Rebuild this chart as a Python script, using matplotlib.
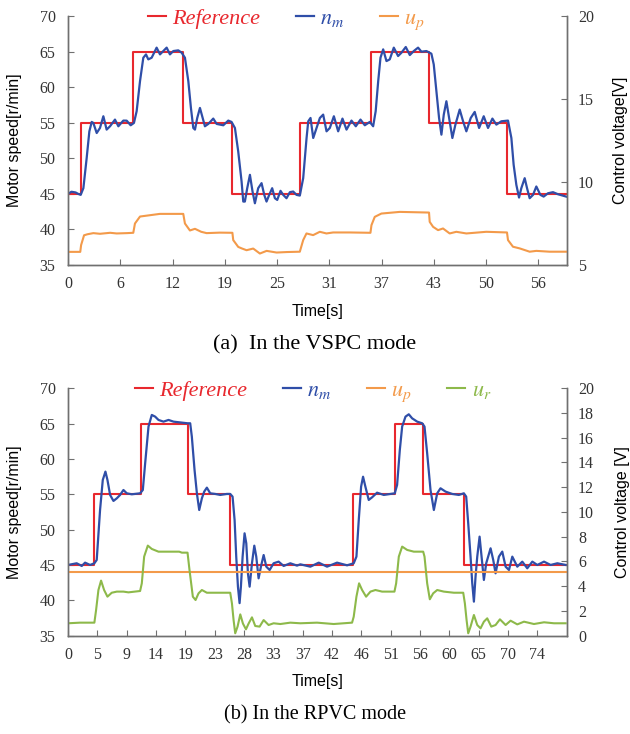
import matplotlib
matplotlib.use('Agg')
import matplotlib.pyplot as plt

plt.rcParams['mathtext.fontset'] = 'stix'

RED = '#e8282e'
BLUE = '#2f4ea8'
ORANGE = '#f39a4a'
GREEN = '#8db94a'
SPINE = '#707070'

# ---------------- (a) VSPC mode ----------------
ref_a_t = [0, 1.5, 7.74, 13.6, 19.5, 27.5, 35.9, 42.8, 52.1, 59.2]
ref_a_v = [45, 55, 65, 55, 45, 55, 65, 55, 45, 45]

nm_a_t = [0, 0.4, 0.9, 1.2, 1.5, 1.82, 2.21, 2.53, 2.81, 3.0, 3.4, 3.79, 4.19, 4.58, 4.98,
          5.57, 5.97, 6.56, 6.96, 7.43, 7.82, 8.14, 8.54, 8.93, 9.25, 9.52, 9.92, 10.51,
          10.91, 11.3, 11.7, 12.09, 12.49, 13.08, 13.48, 13.87, 14.27, 14.58, 14.86, 15.06,
          15.33, 15.65, 15.97, 16.24, 16.64, 17.23, 17.63, 18.02, 18.42, 19.01, 19.4, 19.8,
          20.19, 20.59, 20.79, 20.98, 21.26, 21.58, 21.89, 22.17, 22.56, 22.96, 23.28, 23.55,
          23.87, 24.22, 24.54, 24.82, 25.21, 25.53, 25.92, 26.32, 26.71, 27.11,
          27.5, 27.9, 28.1, 28.3, 28.5, 28.77, 29.09, 29.48, 29.88, 30.27, 30.67, 31.06,
          31.54, 32.05, 32.56, 33.04, 33.63, 34.14, 34.7, 35.21, 35.8, 36.2, 36.5, 36.8,
          37.07, 37.39, 37.78, 38.17, 38.65, 39.16, 39.56, 40.07, 40.55, 41.02, 41.53,
          41.93, 42.52, 43.11, 43.39, 43.71, 44.02, 44.3, 44.58, 44.89, 45.21, 45.6, 45.96,
          46.47, 46.87, 47.26, 47.78, 48.25, 48.77, 49.32, 49.83, 50.35, 50.82, 51.41,
          52.2, 52.6, 52.87, 53.19, 53.51, 53.78, 54.18, 54.46, 54.77, 55.17, 55.56,
          56.04, 56.43, 56.95, 57.54, 58.13, 59.1]
nm_a_v = [45.0, 45.3, 45.2, 45.0, 44.86, 45.8, 50.04, 53.8, 55.12, 54.98, 53.56, 54.27, 55.92, 54.04, 54.51,
          55.45, 54.51, 55.31, 55.3, 54.65, 54.98, 56.63, 60.86, 64.15, 64.62, 63.92, 64.15, 65.57,
          64.62, 65.09, 65.57, 64.62, 65.09, 65.19, 64.86, 64.15, 60.86, 57.09, 54.27, 54.04,
          55.68, 57.09, 55.68, 54.51, 54.84, 55.59, 54.84, 54.74, 54.65, 55.31, 55.12, 54.27,
          50.98, 46.74, 43.92, 43.92, 45.8, 47.68, 45.33, 43.68, 45.8, 46.51, 44.86, 43.92,
          44.86, 45.8, 44.39, 44.15, 45.43, 44.86, 44.39, 45.24, 45.33, 44.86,
          44.76, 47.21, 50.04, 52.86, 55.21, 55.68, 52.86, 54.27, 55.68, 56.15, 53.8, 54.27,
          55.92, 53.8, 55.59, 54.04, 55.31, 54.51, 55.45, 54.65, 55.12, 54.51, 56.63, 60.86,
          64.15, 65.33, 63.68, 63.92, 65.57, 64.39, 64.86, 65.66, 64.53, 65.09, 65.57,
          65.0, 65.09, 64.72, 63.21, 59.45, 55.68, 53.33, 56.15, 58.03, 55.68, 52.86, 54.74,
          56.86, 55.21, 53.8, 55.68, 56.53, 54.27, 55.92, 54.27, 55.59, 54.74, 55.21,
          55.31, 52.86, 49.09, 46.27, 44.48, 45.8, 47.21, 45.8, 44.39, 44.86, 46.04,
          44.86, 44.62, 45.09, 45.24, 44.95, 44.62]

up_a_t = [0, 1.45, 1.55, 1.9, 2.29, 3.0, 3.79, 5.0, 5.77, 7.0, 7.74, 7.94, 8.54, 10.9,
          13.67, 13.87, 14.46, 15.06, 15.8, 16.44, 18.0, 19.5, 19.6, 20.19, 20.6, 21.18,
          21.97, 22.76, 23.56, 24.74, 26.0, 27.5, 27.9, 28.29, 29.08, 29.87, 30.66, 31.45,
          33.43, 35.88, 36.0, 36.39, 37.18, 39.36, 42.83, 42.91, 43.31, 43.9, 44.49, 45.28,
          46.07, 47.26, 49.63, 52.08, 52.2, 52.79, 53.58, 54.77, 55.56, 57.14, 59.2]
up_a_v = [5.79, 5.79, 6.2, 6.79, 6.85, 6.92, 6.88, 6.94, 6.9, 6.92, 6.94, 7.5, 7.92, 8.08,
          8.08, 7.5, 7.08, 7.18, 7.0, 6.92, 6.95, 6.94, 6.5, 6.09, 6.0, 5.89,
          5.99, 5.69, 5.85, 5.75, 5.78, 5.8, 6.5, 6.9, 6.8, 7.0, 6.9, 6.96,
          6.96, 6.94, 7.4, 7.9, 8.1, 8.2, 8.16, 7.6, 7.3, 7.1, 7.2, 6.9,
          7.0, 6.9, 7.0, 6.96, 6.5, 6.1, 6.0, 5.8, 5.85, 5.8, 5.8]

xticks_a = ['0', '6', '12', '19', '25', '31', '37', '43', '50', '56']

# ---------------- (b) RPVC mode ----------------
ref_b_t = [0, 4.17, 11.57, 18.97, 25.68, 45.08, 51.73, 56.23, 62.67, 79]
ref_b_v = [45, 55, 65, 55, 45, 55, 65, 55, 45, 45]

nm_b_t = [0, 1.37, 2.17, 2.7, 3.49, 4.17, 4.54, 5.07, 5.5, 5.92, 6.24, 6.66, 7.19, 7.72,
          8.24, 8.77, 9.3, 10.09, 11.41, 11.84, 12.21, 12.74, 13.26, 13.79, 14.32, 15.11,
          15.91, 16.7, 18.02, 18.92, 19.34, 19.6, 20.03, 20.4, 20.77, 21.19, 21.56, 21.98,
          22.51, 23.3, 24.1, 25.15, 25.68, 26.05, 26.37, 26.63, 26.9, 27.16, 27.37, 27.64,
          27.95, 28.22, 28.48, 28.75, 29.12, 29.49, 29.8, 30.17, 30.54, 30.97, 31.39, 31.92,
          32.55, 33.34, 34.14, 35.19, 36.25,
          36.78, 38.37, 39.69, 41.01, 42.59, 44.18, 45.23, 45.66, 46.03, 46.4, 46.71, 47.08,
          47.61, 48.14, 48.93, 49.99, 51.05, 51.73, 52.1, 52.53, 52.9, 53.43, 53.95, 54.48,
          55.28, 56.07, 56.44, 56.86, 57.39, 57.92, 58.45, 58.97, 59.77, 60.82, 61.88, 62.67,
          63.04, 63.36, 63.73, 64.0, 64.26, 64.52, 64.79, 65.16, 65.47, 65.84, 66.21, 66.9,
          67.32, 67.69, 68.22, 68.75, 69.28, 69.81, 70.34, 71.13, 71.92, 72.71, 73.51, 74.3,
          75.36, 76.41, 77.47, 78.79]
nm_b_v = [45.0, 45.24, 44.86, 45.33, 45.0, 45.24, 45.71, 52.78, 57.03, 58.21, 57.03, 54.91, 54.06, 54.43,
          54.91, 55.61, 55.14, 55.0, 55.14, 55.61, 59.39, 64.58, 66.23, 65.99, 65.52, 65.28,
          65.52, 65.28, 65.14, 65.05, 65.05, 63.16, 58.44, 55.14, 52.78, 54.43, 55.38, 55.94,
          55.14, 55.05, 54.91, 55.05, 55.05, 54.67, 51.37, 46.18, 41.93, 39.6, 41.93, 46.18,
          49.48, 48.07, 43.82, 41.93, 45.24, 47.73, 46.18, 43.11, 44.76, 46.41, 44.76, 44.29,
          45.24, 45.47, 44.86, 45.24, 44.91,
          45.09, 44.76, 45.33, 44.76, 45.33, 44.95, 45.24, 46.18, 51.37, 56.08, 57.49, 56.08,
          54.2, 54.57, 55.23, 54.91, 55.05, 55.14, 56.32, 61.27, 64.58, 65.99, 66.32, 65.75,
          65.28, 65.05, 64.58, 60.8, 55.61, 52.78, 55.14, 55.85, 55.38, 55.05, 54.91, 55.14,
          54.67, 50.89, 46.18, 42.4, 39.81, 43.35, 46.18, 49.01, 46.18, 42.88, 45.24, 47.36,
          45.71, 43.82, 46.18, 46.89, 44.76, 44.29, 46.18, 44.76, 45.47, 44.53, 45.47, 45.0,
          45.47, 45.0, 45.24, 45.0]

up_b_t = [0, 79]
up_b_v = [5.15, 5.15]

ur_b_t = [0, 1.9, 4.17, 4.44, 4.81, 5.23, 5.71, 6.24, 6.92, 7.72, 8.77, 9.56, 11.41, 11.68,
          12.05, 12.63, 13.26, 14.32, 15.64, 17.6, 18.02, 18.92, 19.23, 19.76, 20.19, 20.66,
          21.19, 21.98, 23.04, 25.68, 25.95, 26.21, 26.47, 26.84, 27.27, 27.69, 28.17, 28.59,
          29.12, 29.64, 30.33, 30.97, 31.76, 32.55, 33.61, 35.19, 36.78,
          39.42, 42.06, 44.97, 45.23, 45.66, 46.08, 46.56, 47.19, 47.88, 48.67, 49.73, 51.68,
          51.95, 52.37, 52.9, 53.69, 54.75, 56.23, 56.44, 56.86, 57.28, 57.81, 58.45, 59.5,
          61.09, 62.57, 62.83, 63.1, 63.36, 63.73, 64.26, 64.79, 65.31, 65.84, 66.37, 67.01,
          67.69, 68.38, 69.28, 70.07, 71.13, 72.19, 73.77, 75.36, 76.94, 78.79]
ur_b_v = [1.0, 1.05, 1.05, 2.07, 3.69, 4.45, 3.69, 3.15, 3.47, 3.56, 3.56, 3.5, 3.61, 4.23,
          6.39, 7.28, 7.01, 6.79, 6.79, 6.79, 6.71, 6.71, 5.31, 3.15, 2.88, 3.42,
          3.69, 3.47, 3.47, 3.47, 2.61, 1.26, 0.19, 0.73, 1.72, 0.98, 0.51, 0.98,
          1.48, 0.78, 0.73, 1.26, 0.86, 1.0, 0.94, 1.05, 1.0,
          1.05, 0.94, 1.05, 1.53, 3.15, 4.23, 3.69, 3.15, 3.56, 3.69, 3.56, 3.56,
          4.23, 6.39, 7.2, 6.93, 6.79, 6.79, 6.39, 4.23, 2.94, 3.42, 3.69, 3.56,
          3.47, 3.47, 2.61, 1.26, 0.19, 0.73, 1.67, 0.86, 0.59, 1.13, 1.4, 0.73,
          0.86, 1.32, 0.86, 1.21, 0.91, 1.13, 0.94, 1.08, 1.0, 1.0]

xticks_b = ['0', '5', '9', '14', '19', '23', '28', '33', '37', '42', '46', '51',
            '56', '60', '65', '70', '74']

SERIF = 'Liberation Serif'
SANS = 'Liberation Sans'


def style_axes(ax, ax2, xlim, step, labels, ylim2, yticks2, rlabel):
    ax.set_xlim(0, xlim)
    ax.set_ylim(35, 70)
    ax.set_yticks(range(35, 71, 5))
    ax.set_xticks([i * step for i in range(len(labels))])
    ax.set_xticklabels(labels)
    ax2.set_ylim(*ylim2)
    ax2.set_yticks(yticks2)
    for a in (ax, ax2):
        for s in a.spines.values():
            s.set_color(SPINE)
            s.set_linewidth(1.0)
        a.spines['top'].set_visible(False)
        a.tick_params(direction='in', length=4, color=SPINE, labelsize=11.5,
                      labelcolor='#333333')
        for lab in a.get_xticklabels() + a.get_yticklabels():
            lab.set_fontfamily(SERIF)
    ax.tick_params(axis='y', pad=9)
    ax.tick_params(axis='x', pad=8)
    ax2.tick_params(axis='y', pad=8)
    ax.set_ylabel('Motor speed[r/min]', family=SANS, fontsize=11.5)
    ax.set_xlabel('Time[s]', family=SANS, fontsize=11.5)
    ax2.set_ylabel(rlabel, family=SANS, fontsize=11.5)


def add_legend(ax2, handles, labels, x, colors):
    leg = ax2.legend(handles, labels, loc='center left', bbox_to_anchor=(x, 0.985),
                     ncol=len(handles), frameon=False, borderpad=0, borderaxespad=0,
                     handlelength=0.8, handletextpad=0.3, columnspacing=1.6,
                     prop={'family': SERIF, 'style': 'italic', 'size': 16})
    for t, c in zip(leg.get_texts(), colors):
        t.set_color(c)


fig = plt.figure(figsize=(6.3, 7.34), dpi=100)

# (a)
ax = fig.add_axes([0.108, 0.639, 0.792, 0.339])
ax2 = ax.twinx()
l1, = ax.plot(ref_a_t, ref_a_v, drawstyle='steps-post', color=RED, lw=1.5)
l2, = ax.plot(nm_a_t, nm_a_v, color=BLUE, lw=1.6)
l3, = ax2.plot(up_a_t, up_a_v, color=ORANGE, lw=1.5)
style_axes(ax, ax2, 59.2, 6.2, xticks_a, (5, 20), [5, 10, 15, 20], 'Control voltage[V]')
ax.yaxis.set_label_coords(-0.093, 0.5)
ax2.yaxis.set_label_coords(1.092, 0.5)
ax.xaxis.set_label_coords(0.5, -0.155)
add_legend(ax2, [l1, l2, l3], ['Reference', '$n_m$', '$u_p$'], 0.16, [RED, BLUE, ORANGE])
fig.text(0.5, 1 - 345 / 734, '(a)  In the VSPC mode', family=SERIF, fontsize=16,
         ha='center', va='center')

# (b)
bx = fig.add_axes([0.108, 0.134, 0.792, 0.337])
bx2 = bx.twinx()
m1, = bx.plot(ref_b_t, ref_b_v, drawstyle='steps-post', color=RED, lw=1.5)
m2, = bx.plot(nm_b_t, nm_b_v, color=BLUE, lw=1.6)
m3, = bx2.plot(up_b_t, up_b_v, color=ORANGE, lw=1.5)
m4, = bx2.plot(ur_b_t, ur_b_v, color=GREEN, lw=1.5)
style_axes(bx, bx2, 79, 4.645, xticks_b, (0, 20), list(range(0, 21, 2)), 'Control voltage [V]')
bx.yaxis.set_label_coords(-0.093, 0.5)
bx2.yaxis.set_label_coords(1.096, 0.5)
bx.xaxis.set_label_coords(0.5, -0.155)
add_legend(bx2, [m1, m2, m3, m4], ['Reference', '$n_m$', '$u_p$', '$u_r$'], 0.134,
           [RED, BLUE, ORANGE, GREEN])
fig.text(0.5, 1 - 715 / 734, '(b) In the RPVC mode', family=SERIF, fontsize=14.5,
         ha='center', va='center')

fig.savefig('out.png', dpi=100)
